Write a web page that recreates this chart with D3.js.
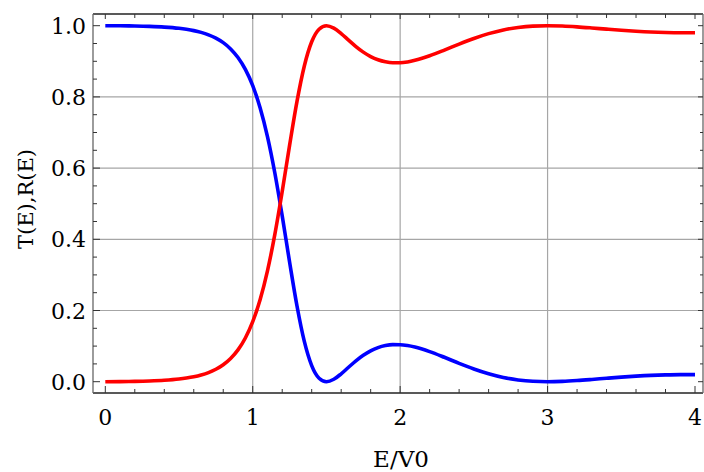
<!DOCTYPE html>
<html>
<head>
<meta charset="utf-8">
<script src="https://cdn.jsdelivr.net/npm/d3@7"></script>
<style>
  html, body { margin: 0; padding: 0; background: #fff; }
  svg { display: block; }
</style>
</head>
<body>
<svg id="chart" width="704" height="472"></svg>
<script>
// Energies (E/V0)
const energy = [0, 0.1, 0.2, 0.3, 0.4, 0.5,
  0.55, 0.6, 0.65, 0.7, 0.75, 0.8, 0.85, 0.9, 0.95, 1.0,
  1.05, 1.1, 1.15, 1.2, 1.25, 1.3, 1.35, 1.4, 1.45, 1.5,
  1.55, 1.6, 1.65, 1.7, 1.75, 1.8, 1.85, 1.9, 1.95, 2.0, 2.05, 2.1,
  2.2, 2.3, 2.4, 2.5, 2.6, 2.7, 2.8, 2.9, 3.0,
  3.1, 3.2, 3.3, 3.4, 3.5, 3.6, 3.7, 3.8, 3.9, 4.0];
// Transmission T(E) (red)
const transmission = [0, 0.0003, 0.0009, 0.0020, 0.0039, 0.0074,
  0.0102, 0.0138, 0.0188, 0.0256, 0.0349, 0.0476, 0.0652, 0.0894, 0.1228, 0.1685,
  0.2302, 0.3114, 0.4137, 0.5343, 0.6638, 0.7867, 0.8869, 0.9548, 0.9902, 1.0000,
  0.9932, 0.9778, 0.9594, 0.9414, 0.9258, 0.9133, 0.9043, 0.8986, 0.8959, 0.8960, 0.8983, 0.9026,
  0.9154, 0.9314, 0.9484, 0.9642, 0.9777, 0.9881, 0.9950, 0.9989, 1.0000,
  0.9991, 0.9968, 0.9937, 0.9903, 0.9871, 0.9844, 0.9822, 0.9808, 0.9801, 0.9801];
// Reflection R(E) (blue)
const reflection = [1, 0.9997, 0.9991, 0.9980, 0.9961, 0.9926,
  0.9898, 0.9862, 0.9812, 0.9744, 0.9651, 0.9524, 0.9348, 0.9106, 0.8772, 0.8315,
  0.7698, 0.6886, 0.5863, 0.4657, 0.3362, 0.2133, 0.1131, 0.0452, 0.0098, 0,
  0.0068, 0.0222, 0.0406, 0.0586, 0.0742, 0.0867, 0.0957, 0.1014, 0.1041, 0.1040, 0.1017, 0.0974,
  0.0846, 0.0686, 0.0516, 0.0358, 0.0223, 0.0119, 0.0050, 0.0011, 0,
  0.0009, 0.0032, 0.0063, 0.0097, 0.0129, 0.0156, 0.0178, 0.0192, 0.0199, 0.0199];

const xTicks = [0, 1, 2, 3, 4];
const xTickLabels = ["0", "1", "2", "3", "4"];
const yTicks = [0, 0.2, 0.4, 0.6, 0.8, 1.0];
const yTickLabels = ["0.0", "0.2", "0.4", "0.6", "0.8", "1.0"];
const xGrid = [1, 2, 3];
const yGrid = [0.2, 0.4, 0.6, 0.8];
const xLabel = "E/V0";
const yLabel = "T(E),R(E)";

const FONT = "DejaVu Serif";

const svg = d3.select("#chart");
const L = 93, R = 703, T = 14, B = 393;

const x = d3.scaleLinear().domain([0, 4]).range([105.3, 695]);
const y = d3.scaleLinear().domain([0, 1]).range([381.7, 25.7]);

// grid
svg.append("g").selectAll("line").data(xGrid).join("line")
  .attr("x1", d => x(d)).attr("x2", d => x(d)).attr("y1", T).attr("y2", B)
  .attr("stroke", "#a6a6a6").attr("stroke-width", 1.2);
svg.append("g").selectAll("line").data(yGrid).join("line")
  .attr("y1", d => y(d)).attr("y2", d => y(d)).attr("x1", L).attr("x2", R)
  .attr("stroke", "#a6a6a6").attr("stroke-width", 1.2);

// curves
const line = d3.line().curve(d3.curveMonotoneX);
const ptsR = energy.map((e, i) => [x(e), y(reflection[i])]);
const ptsT = energy.map((e, i) => [x(e), y(transmission[i])]);
svg.append("path").attr("d", line(ptsR)).attr("fill", "none")
  .attr("stroke", "#0000ff").attr("stroke-width", 3.6);
svg.append("path").attr("d", line(ptsT)).attr("fill", "none")
  .attr("stroke", "#ff0000").attr("stroke-width", 3.6);

// frame
const frame = svg.append("g");
frame.append("line").attr("x1", L).attr("x2", R).attr("y1", B).attr("y2", B).attr("stroke", "#222").attr("stroke-width", 1.3);
frame.append("line").attr("x1", L).attr("x2", R).attr("y1", T).attr("y2", T).attr("stroke", "#222").attr("stroke-width", 1.3);
frame.append("line").attr("x1", L).attr("x2", L).attr("y1", T).attr("y2", B).attr("stroke", "#666").attr("stroke-width", 1.3);
frame.append("line").attr("x1", R).attr("x2", R).attr("y1", T).attr("y2", B).attr("stroke", "#666").attr("stroke-width", 1.3);

// ticks
const xMinor = d3.range(0, 4.0001, 0.2).filter(v => Math.abs(v - Math.round(v)) > 1e-6);
const yMinor = d3.range(0, 1.0001, 0.05).filter(v => Math.abs(v * 5 - Math.round(v * 5)) > 1e-6);
const tk = svg.append("g").attr("stroke", "#333").attr("stroke-width", 1);
xTicks.forEach(v => {
  tk.append("line").attr("x1", x(v)).attr("x2", x(v)).attr("y1", B).attr("y2", B - 7);
  tk.append("line").attr("x1", x(v)).attr("x2", x(v)).attr("y1", T).attr("y2", T + 5);
});
xMinor.forEach(v => {
  tk.append("line").attr("x1", x(v)).attr("x2", x(v)).attr("y1", B).attr("y2", B - 4);
  tk.append("line").attr("x1", x(v)).attr("x2", x(v)).attr("y1", T).attr("y2", T + 4);
});
yTicks.forEach(v => {
  tk.append("line").attr("y1", y(v)).attr("y2", y(v)).attr("x1", L).attr("x2", L + 7);
  tk.append("line").attr("y1", y(v)).attr("y2", y(v)).attr("x1", R).attr("x2", R - 5);
});
yMinor.forEach(v => {
  tk.append("line").attr("y1", y(v)).attr("y2", y(v)).attr("x1", L).attr("x2", L + 4);
  tk.append("line").attr("y1", y(v)).attr("y2", y(v)).attr("x1", R).attr("x2", R - 3);
});

// tick labels
svg.append("g").selectAll("text").data(xTicks).join("text")
  .style("font-family", FONT).attr("fill", "#000")
  .attr("x", d => x(d)).attr("y", 425).attr("text-anchor", "middle")
  .style("font-size", "22px").text((d, i) => xTickLabels[i]);
svg.append("g").selectAll("text").data(yTicks).join("text")
  .style("font-family", FONT).attr("fill", "#000")
  .attr("x", 86).attr("y", d => y(d) + 8).attr("text-anchor", "end")
  .style("font-size", "22px").text((d, i) => yTickLabels[i]);

// axis labels
svg.append("text").style("font-family", FONT).attr("fill", "#000")
  .attr("x", 401).attr("y", 467).attr("text-anchor", "middle")
  .style("font-size", "23px").text(xLabel);
svg.append("text").style("font-family", FONT).attr("fill", "#000")
  .attr("transform", "translate(33,199) rotate(-90)")
  .attr("text-anchor", "middle").style("font-size", "21px").text(yLabel);
</script>
</body>
</html>
